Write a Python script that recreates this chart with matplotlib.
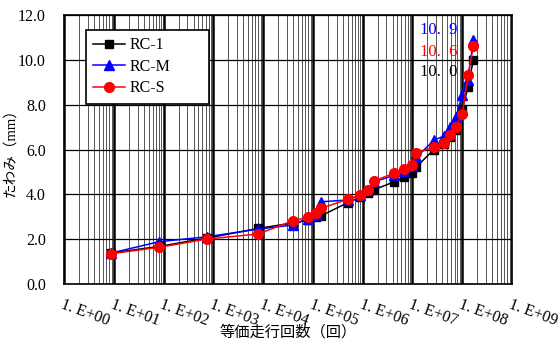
import matplotlib
matplotlib.use("Agg")
import matplotlib.pyplot as plt
import numpy as np

# equivalent number of passes (log scale) and deflection (mm)
passes = [8.7, 82, 750, 7.9e3, 3.9e4, 7.9e4, 1.17e5, 1.48e5, 5.0e5, 9.0e5,
          1.3e6, 1.66e6, 4.3e6, 6.8e6, 9.6e6, 1.2e7, 2.7e7, 4.3e7, 5.7e7,
          7.4e7, 1.0e8, 1.3e8, 1.67e8]
rc_1 = [1.38, 1.68, 2.05, 2.48, 2.72, 2.85, 3.0, 3.05, 3.63, 3.87,
        4.05, 4.2, 4.56, 4.79, 4.94, 5.23, 6.0, 6.25, 6.55, 6.85,
        7.8, 8.77, 10.0]
rc_m = [1.38, 1.89, 2.11, 2.45, 2.63, 2.92, 3.1, 3.67, 3.75, 3.98,
        4.2, 4.55, 4.85, 5.05, 5.25, 5.65, 6.42, 6.6, 7.0, 7.43,
        8.43, 9.1, 10.9]
rc_s = [1.35, 1.64, 2.01, 2.23, 2.82, 2.97, 3.15, 3.38, 3.78, 3.97,
        4.19, 4.6, 4.94, 5.12, 5.31, 5.83, 6.13, 6.27, 6.65, 7.02,
        7.6, 9.32, 10.6]

final_labels = ["10.  9", "10.  6", "10.  0"]
xtick_vals = [10.0 ** k for k in range(10)]
xtick_labels = ["1. E+%02d" % k for k in range(10)]
ytick_vals = [0, 2, 4, 6, 8, 10, 12]

serif = ["Liberation Serif", "Noto Sans CJK JP"]
plt.rcParams["font.family"] = serif

fig = plt.figure(figsize=(5.59, 3.41), dpi=100)
ax = fig.add_axes([0.1145, 0.167, 0.8015, 0.789])

ax.plot(passes, rc_1, color="black", marker="s", ms=6, lw=1.1, label="RC-1", zorder=3)
ax.plot(passes, rc_m, color="blue", marker="^", ms=6.5, lw=1.1, label="RC-M", zorder=4)
ax.plot(passes, rc_s, color="red", marker="o", ms=7, lw=1.1, label="RC-S", zorder=5)

ax.set_xscale("log")
ax.set_xlim(1, 1e9)
ax.set_ylim(0, 12)
ax.set_xticks(xtick_vals)
ax.set_xticklabels(xtick_labels, rotation=-20, ha="left", va="top",
                   rotation_mode="anchor", fontsize=11.5)
ax.set_yticks(ytick_vals)
ax.set_yticklabels(["%.1f" % v for v in ytick_vals], fontsize=11.5)
ax.tick_params(axis="both", which="both", length=0)
ax.tick_params(axis="x", pad=9)
ax.tick_params(axis="y", pad=13)

ax.grid(True, axis="x", which="major", color="black", lw=1.8, zorder=1)
ax.grid(True, axis="x", which="minor", color="#555555", lw=0.7, zorder=1)
ax.grid(True, axis="y", which="major", color="black", lw=0.9, zorder=1)
ax.set_axisbelow(True)
for sp in ax.spines.values():
    sp.set_color("black")
    sp.set_linewidth(1.2)

# final values
cols = ["blue", "red", "black"]
ys = [11.33, 10.35, 9.46]
for lab, c, y in zip(final_labels, cols, ys):
    ax.text(8.0e7, y, lab, color=c, ha="right", va="center", fontsize=12)

leg = ax.legend(loc="upper left", bbox_to_anchor=(0.049, 0.669, 0.275, 0.275),
                mode="expand", fontsize=11.5, frameon=True, fancybox=False,
                edgecolor="black", framealpha=1, handlelength=2.0,
                handletextpad=0.3, labelspacing=0.35, borderpad=0.45,
                borderaxespad=0)
leg.get_frame().set_linewidth(1.2)

ax.set_xlabel("等価走行回数（回）", fontsize=11, family=["Noto Sans CJK JP"], labelpad=-4)
ax.set_ylabel("たわみ（mm）", fontsize=10.5, labelpad=1)

fig.savefig("out.png", dpi=100)
